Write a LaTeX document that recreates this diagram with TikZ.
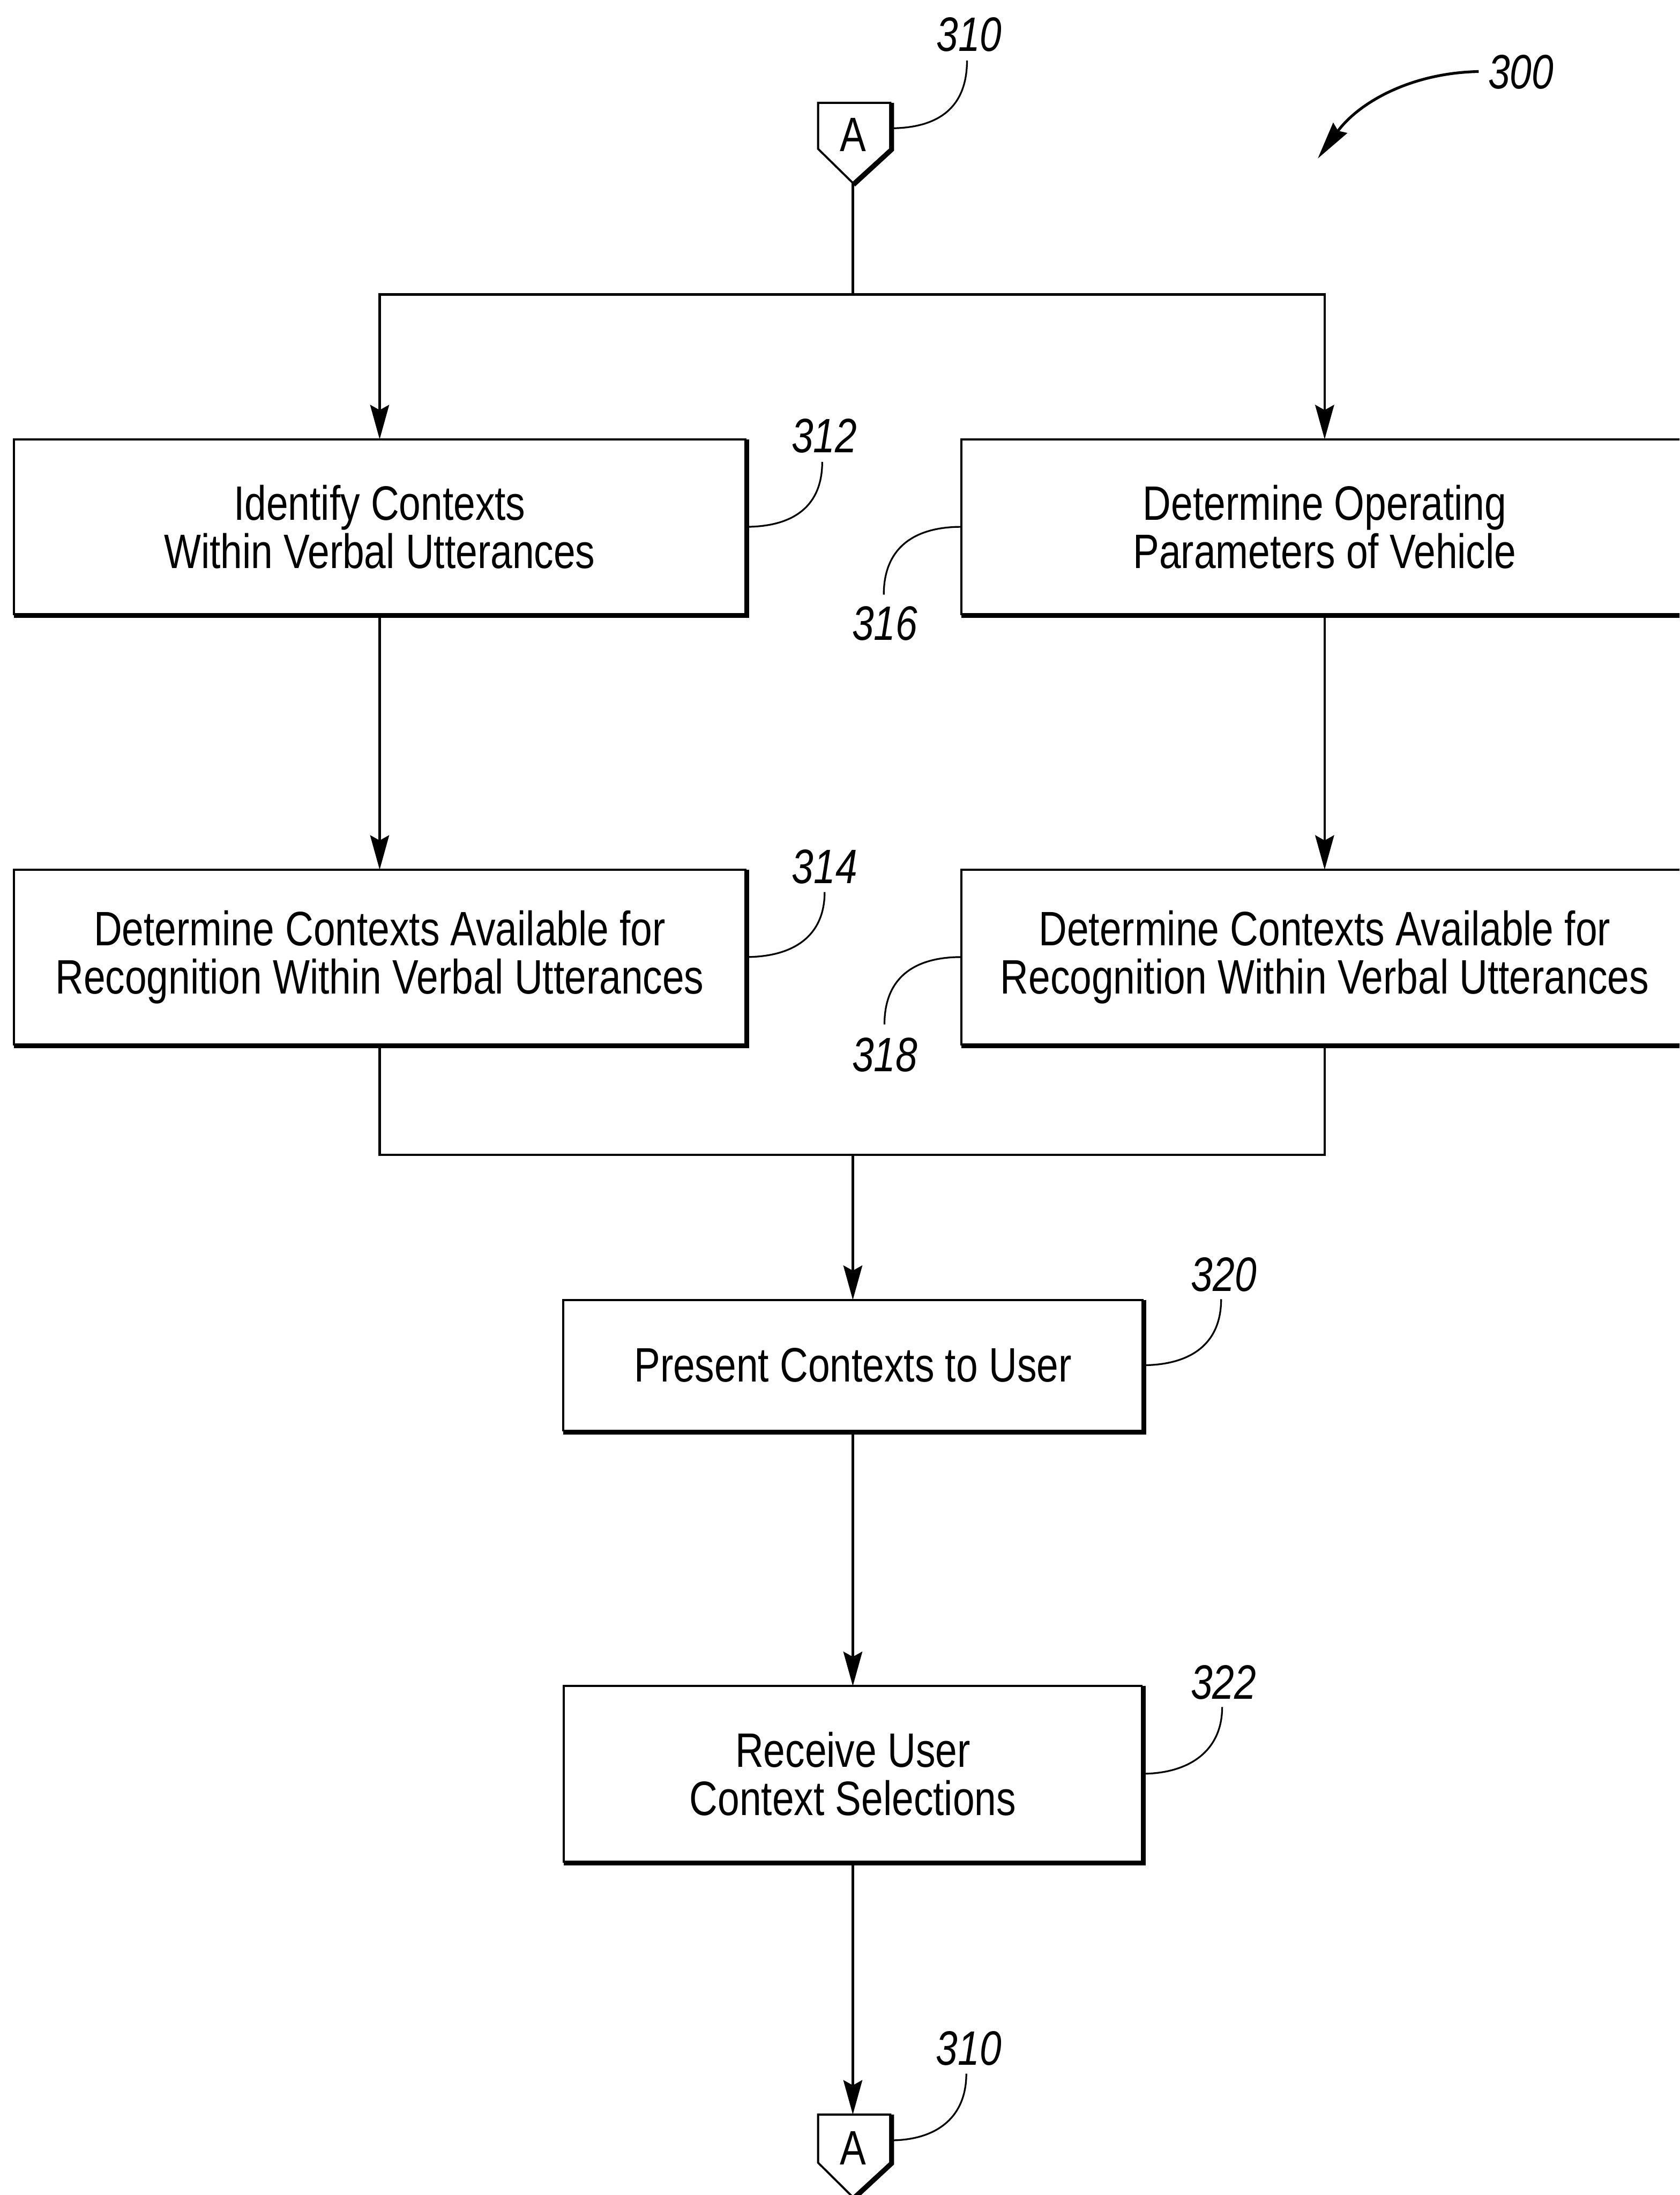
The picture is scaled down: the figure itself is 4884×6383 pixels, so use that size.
\documentclass[tikz,border=0pt]{standalone}
\usepackage{fontspec}
\setmainfont{Liberation Sans}[FakeStretch=0.81]
\usetikzlibrary{arrows.meta}
\begin{document}
\begin{tikzpicture}[x=0.1mm,y=-0.1mm,
  boxtext/.style={font=\fontsize{40}{40}\selectfont},
  stepbox/.style={draw, line width=0.6mm, outer sep=0pt, inner sep=0pt, align=center, boxtext},
  numlabel/.style={font=\fontsize{40}{40}\selectfont\itshape, inner sep=0pt},
  leader/.style={line width=0.5mm},
  flow/.style={line width=0.7mm},
  arrow/.style={flow, -{Stealth[length=10mm, width=5.5mm, inset=1.5mm]}},
  shade/.style={line width=1.4mm},
]
\useasboundingbox (0,0) rectangle (4884,6383);
\clip (0,0) rectangle (4884,6383);

% boxes
\node[stepbox, minimum width=212.8mm, minimum height=50.9mm] (b312) at (1104,1532) {Identify Contexts\\Within Verbal Utterances};
\node[stepbox, minimum width=211.2mm, minimum height=50.9mm] (b316) at (3852,1532) {Determine Operating\\Parameters of Vehicle};
\node[stepbox, minimum width=212.8mm, minimum height=50.8mm] (b314) at (1104,2783) {Determine Contexts Available for\\Recognition Within Verbal Utterances};
\node[stepbox, minimum width=211.2mm, minimum height=50.8mm] (b318) at (3852,2783) {Determine Contexts Available for\\Recognition Within Verbal Utterances};
\node[stepbox, minimum width=168.4mm, minimum height=38mm] (b320) at (2480,3970) {Present Contexts to User};
\node[stepbox, minimum width=168.0mm, minimum height=51mm] (b322) at (2480,5158) {Receive User\\Context Selections};

% shadow edges (right and bottom thicker)
\foreach \n in {b312,b316,b314,b318,b320,b322}{
  \draw[shade] ([shift={(4,0)}]\n.north east) -- ([shift={(4,4)}]\n.south east) -- ([shift={(0,4)}]\n.south west);
}

% off-page connectors
\node[boxtext, inner sep=0pt] (conA) at (2481,392) {A};
\draw[line width=0.6mm, line join=miter] (2379,299) -- (2589,299) -- (2589,433) -- (2480,532) -- (2379,433) -- cycle;
\draw[shade] (2593,299) -- (2593,435) -- (2482,537);
\coordinate (conAtip) at (2480,532);
\coordinate (conAright) at (2589,373);

\node[boxtext, inner sep=0pt] (conB) at (2481,6247) {A};
\draw[line width=0.6mm, line join=miter] (2379,6149) -- (2589,6149) -- (2589,6289) -- (2480,6389) -- (2379,6289) -- cycle;
\draw[shade] (2593,6149) -- (2593,6291) -- (2482,6394);
\coordinate (conBtop) at (2480,6149);
\coordinate (conBright) at (2589,6224);

% flow lines
\coordinate (split) at (2480,856);
\coordinate (merge) at (2480,3358);
\draw[flow] (conAtip) -- (split);
\draw[arrow] (split) -| (b312.north);
\draw[arrow] (split) -| (b316.north);
\draw[arrow] (b312.south) -- (b314.north);
\draw[arrow] (b316.south) -- (b318.north);
\draw[flow] (b314.south) |- (merge);
\draw[flow] (b318.south) |- (merge);
\draw[arrow] (merge) -- (b320.north);
\draw[arrow] (b320.south) -- (b322.north);
\draw[arrow] (b322.south) -- (conBtop);

% reference numerals
\node[numlabel] (n310a) at (2818,101) {310};
\node[numlabel] (n300) at (4423,210) {300};
\node[numlabel] (n312) at (2397,1268) {312};
\node[numlabel] (n316) at (2573,1813) {316};
\node[numlabel] (n314) at (2398,2520) {314};
\node[numlabel] (n318) at (2573,3067) {318};
\node[numlabel] (n320) at (3559,3706) {320};
\node[numlabel] (n322) at (3558,4893) {322};
\node[numlabel] (n310b) at (2817,5957) {310};

% leaders
\draw[leader] (2812,176) .. controls (2812,320) and (2720,373) .. (conAright);
\draw[leader] (2391,1343) .. controls (2391,1470) and (2310,1532) .. (b312.east);
\draw[leader] (b316.west) .. controls (2650,1532) and (2570,1600) .. (2570,1729);
\draw[leader] (2398,2594) .. controls (2398,2720) and (2310,2783) .. (b314.east);
\draw[leader] (b318.west) .. controls (2650,2783) and (2572,2850) .. (2572,2979);
\draw[leader] (3551,3778) .. controls (3551,3910) and (3460,3970) .. (b320.east);
\draw[leader] (3554,4964) .. controls (3554,5090) and (3460,5158) .. (b322.east);
\draw[leader] (2810,6030) .. controls (2810,6160) and (2720,6224) .. (conBright);

% figure arrow 300
\draw[line width=0.8mm, -{Stealth[length=11mm, width=5mm, inset=1mm]}] (4300,208) .. controls (4100,212) and (3950,300) .. (3832,461);
\end{tikzpicture}
\end{document}
